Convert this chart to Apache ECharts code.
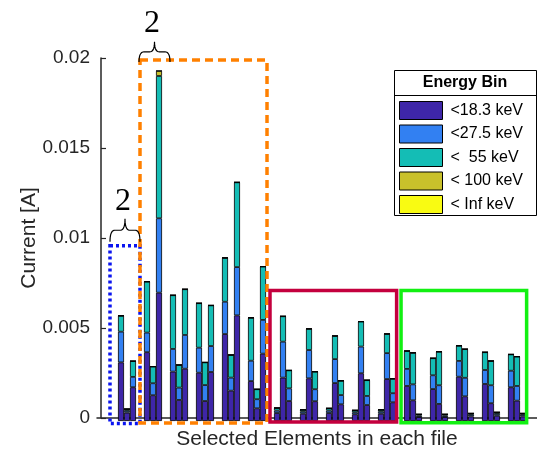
<!DOCTYPE html>
<html>
<head>
<meta charset="utf-8">
<script src="https://cdn.jsdelivr.net/npm/echarts@6/dist/echarts.min.js"></script>
<style>
html,body{margin:0;padding:0;background:#fff;}
#chart{width:537px;height:455px;}
</style>
</head>
<body>
<div id="chart"></div>
<script>
// ---- data ----
const groups = ['1','2','3','4','5','6','7','8','9','10','11','12','13','14','15','16'];
const bins = ['<18.3 keV', '<27.5 keV', '<  55 keV', '< 100 keV', '< Inf keV'];
const binColors = ['#3E26A8', '#3280F2', '#14BDB5', '#C9C12B', '#F9FB12'];
const yTicks = [0, 0.005, 0.01, 0.015, 0.02];

// first bar of each group
const darkA  = [0.00323,0.00379,0.00272,0.00266,0.00479,0.00220,0.00044,0.00040,0.00044,0.00037,0.00040,0.00193,0.00176,0.00244,0.00204,0.00186];
const blueA  = [0.00169,0.00108,0.00125,0.00138,0.00178,0.00112,0.00013,0.00011,0.00013,0.00011,0.00011,0.00094,0.00076,0.00087,0.00077,0.00091];
const tealA  = [0.00088,0.00281,0.00296,0.00245,0.00242,0.00237,0.00015,0.00011,0.00013,0.00011,0.00011,0.00099,0.00094,0.00084,0.00098,0.00090];
const oliveA = [0,0,0,0,0,0,0,0,0,0,0,0,0,0,0,0];
const yellowA= [0,0,0,0,0,0,0,0,0,0,0,0,0,0,0,0];
// second bar of each group
const darkB  = [0.00046,0.00142,0.00116,0.00110,0.00167,0.00070,0.00239,0.00235,0.00209,0.00263,0.00231,0.00114,0.00094,0.00136,0.00098,0.00112];
const blueB  = [0.00010,0.00066,0.00068,0.00088,0.00072,0.00050,0.00198,0.00156,0.00132,0.00147,0.00143,0.00088,0.00103,0.00102,0.00099,0.00081];
const tealB  = [0.00010,0.00092,0.00125,0.00125,0.00125,0.00055,0.00140,0.00117,0.00128,0.00138,0.00106,0.00174,0.00185,0.00158,0.00134,0.00162];
const oliveB = [0,0,0,0,0,0,0,0,0,0,0,0,0,0,0,0];
const yellowB= [0,0,0,0,0,0,0,0,0,0,0,0,0,0,0,0];
// third bar of each group
const darkC  = [0.00186,0.00707,0.00288,0.00270,0.00582,0.00371,0.00110,0.00109,0.00092,0.00088,0.00103,0.00022,0.00022,0.00025,0.00029,0.00025];
const blueC  = [0.00057,0.00410,0.00186,0.00143,0.00266,0.00186,0.00070,0.00066,0.00051,0.00050,0.00050,0.00008,0.00008,0.00009,0.00010,0.00009];
const tealC  = [0.00087,0.00784,0.00252,0.00224,0.00467,0.00294,0.00099,0.00097,0.00079,0.00087,0.00080,0.00007,0.00007,0.00008,0.00009,0.00008];
const oliveC = [0,0.00028,0,0,0,0,0,0,0,0,0,0,0,0,0,0];
const yellowC= [0,0,0,0,0,0,0,0,0,0,0,0,0,0,0,0];

const stacks = {
  A: [darkA, blueA, tealA, oliveA, yellowA],
  B: [darkB, blueB, tealB, oliveB, yellowB],
  C: [darkC, blueC, tealC, oliveC, yellowC]
};

const txt = '#262626';
const font = 'Liberation Sans, Arial, Helvetica, sans-serif';

const series = [];
Object.keys(stacks).forEach(function (sk) {
  stacks[sk].forEach(function (arr, bi) {
    series.push({
      type: 'bar',
      name: bins[bi],
      stack: sk,
      xAxisIndex: 0,
      yAxisIndex: 0,
      barWidth: 6,
      barGap: '0%',
      data: arr,
      itemStyle: { color: binColors[bi], borderColor: '#000', borderWidth: 0.8 },
      emphasis: { disabled: true },
      animation: false
    });
  });
});

const chart = echarts.init(document.getElementById('chart'), null, { renderer: 'canvas' });
chart.setOption({
  animation: false,
  backgroundColor: '#fff',
  grid: [
    { left: 114, right: 7, top: 58, bottom: 34 },
    { left: 97, right: 0, top: 58, bottom: 34 }
  ],
  xAxis: [
    { type: 'category', gridIndex: 0, data: groups, show: false },
    {
      type: 'value', gridIndex: 1,
      min: -0.1538, max: 16.769,
      axisLine: { show: true, onZero: false, lineStyle: { color: txt, width: 1.5 } },
      axisTick: { show: false },
      axisLabel: { show: false },
      splitLine: { show: false },
      name: 'Selected Elements in each file',
      nameLocation: 'middle',
      nameGap: 11,
      nameTextStyle: { fontSize: 21, color: txt, fontFamily: font }
    }
  ],
  yAxis: [
    { type: 'value', gridIndex: 0, min: yTicks[0], max: yTicks[yTicks.length - 1], show: false, splitLine: { show: false } },
    {
      type: 'value', gridIndex: 1,
      min: yTicks[0],
      max: yTicks[yTicks.length - 1],
      interval: 0.005,
      axisLine: { show: true, lineStyle: { color: txt, width: 1.5 } },
      axisTick: { show: true, inside: true, length: 5, lineStyle: { color: txt, width: 1.2 } },
      axisLabel: { fontSize: 19, color: txt, fontFamily: font, margin: 7 },
      splitLine: { show: false },
      name: 'Current [A]',
      nameLocation: 'middle',
      nameGap: 57,
      nameMoveOverlap: false,
      nameRotate: 90,
      nameTextStyle: { fontSize: 21, color: txt, fontFamily: font }
    }
  ],
  legend: {
    data: bins,
    orient: 'vertical',
    left: 399,
    top: 101,
    padding: 0,
    itemWidth: 43,
    itemHeight: 18,
    itemGap: 4.5,
    icon: 'rect',
    itemStyle: { borderColor: '#000', borderWidth: 1 },
    textStyle: { fontSize: 16, color: '#000', fontFamily: font, padding: [0, 0, 0, 3] },
    selectedMode: false,
    z: 95
  },
  series: series
});

// ---- annotations anchored in data coordinates (group number, current) ----
function P(x, y) { return chart.convertToPixel({ gridIndex: 1 }, [x, y]); }
function rectShape(x0, y0, x1, y1) {
  const a = P(x0, y1), b = P(x1, y0);
  return { x: a[0], y: a[1], width: b[0] - a[0], height: b[1] - a[1] };
}
function quad(p0, c, p1, out) {
  for (let i = 1; i <= 10; i++) {
    const t = i / 10, u = 1 - t;
    out.push([u * u * p0[0] + 2 * u * t * c[0] + t * t * p1[0],
              u * u * p0[1] + 2 * u * t * c[1] + t * t * p1[1]]);
  }
}
function bracePoints(xl, xr, yb, yt) {
  const L = P(xl, yb), R = P(xr, yb), T = P((xl + xr) / 2, yt);
  const ym = (L[1] + T[1]) / 2;
  const q = (R[0] - L[0]) * 0.16;
  const xc = T[0];
  const pts = [L];
  quad(L, [L[0], ym], [L[0] + q, ym], pts);
  pts.push([xc - q, ym]);
  quad([xc - q, ym], [xc, ym], [xc, T[1]], pts);
  quad([xc, T[1]], [xc, ym], [xc + q, ym], pts);
  pts.push([R[0] - q, ym]);
  quad([R[0] - q, ym], [R[0], ym], [R[0], R[1]], pts);
  return pts;
}
const lbl1 = P(0.846, 0.01112), lbl2 = P(1.96, 0.02103);

chart.setOption({
  graphic: [
    { type: 'rect', z: 100, shape: rectShape(0.346, -0.00031, 1.5, 0.00957),
      style: { fill: 'none', stroke: '#0a14f0', lineWidth: 3.5, lineDash: [3, 3] } },
    { type: 'rect', z: 100, shape: rectShape(1.5, -0.000275, 6.385, 0.01989),
      style: { fill: 'none', stroke: '#ff8000', lineWidth: 3.5, lineDash: [8, 5] } },
    { type: 'rect', z: 100, shape: rectShape(6.5, -0.00022, 11.37, 0.00709),
      style: { fill: 'none', stroke: '#c4003e', lineWidth: 3.5 } },
    { type: 'rect', z: 100, shape: rectShape(11.54, -0.00026, 16.37, 0.00709),
      style: { fill: 'none', stroke: '#12f012', lineWidth: 3.5 } },
    { type: 'polyline', z: 100, shape: { points: bracePoints(0.346, 1.5, 0.00979, 0.01107) },
      style: { fill: 'none', stroke: '#000', lineWidth: 1.2 } },
    { type: 'polyline', z: 100, shape: { points: bracePoints(1.462, 2.654, 0.01978, 0.0209) },
      style: { fill: 'none', stroke: '#000', lineWidth: 1.2 } },
    { type: 'text', z: 100, x: lbl1[0], y: lbl1[1],
      style: { text: '2', font: '32px "Liberation Serif", "Times New Roman", serif', fill: '#000', align: 'center', verticalAlign: 'bottom' } },
    { type: 'text', z: 100, x: lbl2[0], y: lbl2[1],
      style: { text: '2', font: '32px "Liberation Serif", "Times New Roman", serif', fill: '#000', align: 'center', verticalAlign: 'bottom' } },
    // legend frame and title
    { type: 'rect', z: 90, shape: { x: 394.5, y: 70.5, width: 142, height: 145 },
      style: { fill: '#fff', stroke: '#000', lineWidth: 1 } },
    { type: 'line', z: 91, shape: { x1: 394.5, y1: 95.5, x2: 536.5, y2: 95.5 },
      style: { stroke: '#000', lineWidth: 1 } },
    { type: 'text', z: 91, x: 465, y: 83,
      style: { text: 'Energy Bin', font: 'bold 16px "Liberation Sans", Arial, sans-serif', fill: '#000', align: 'center', verticalAlign: 'middle' } }
  ]
});
</script>
</body>
</html>
